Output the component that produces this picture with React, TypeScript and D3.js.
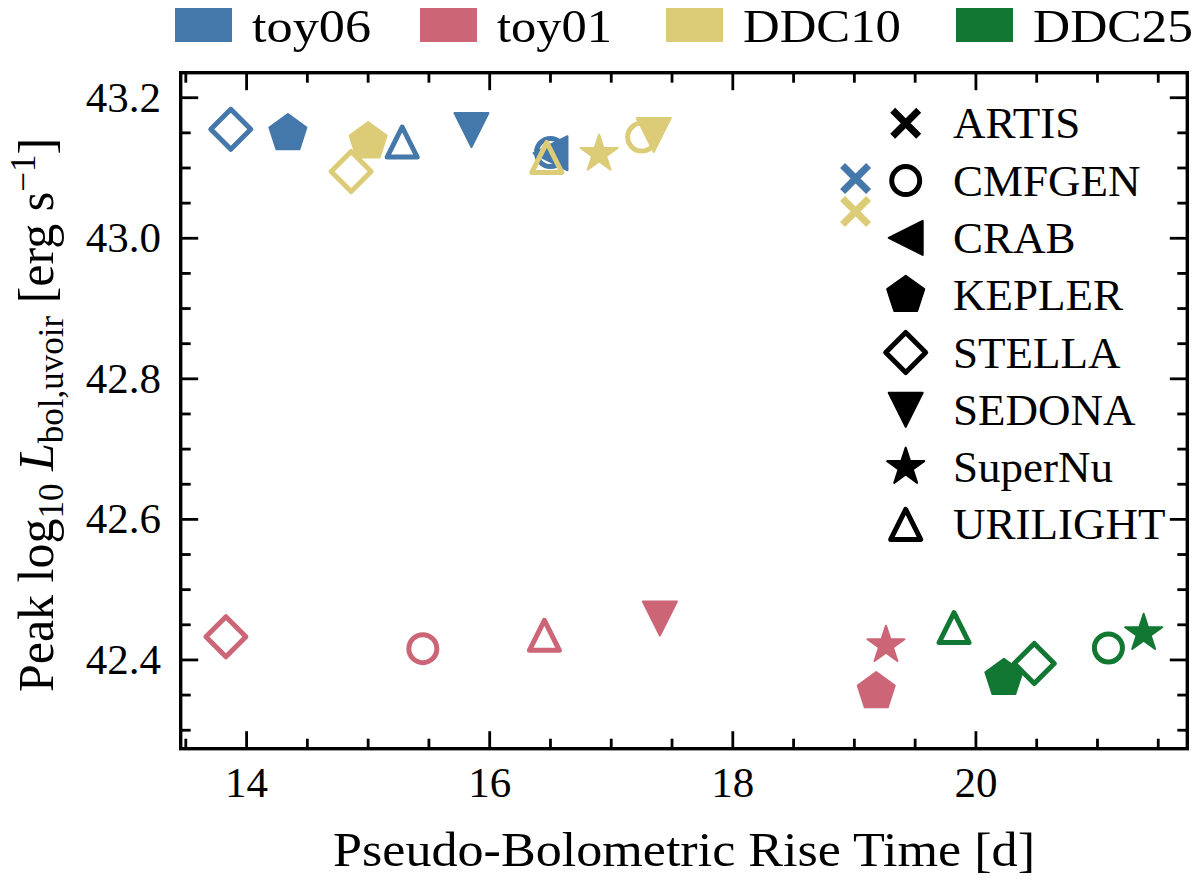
import React from "react";
import * as d3 from "d3";

// ---------- data ----------
const models = ["ARTIS", "CMFGEN", "CRAB", "KEPLER", "STELLA", "SEDONA", "SuperNu", "URILIGHT"];
const modelShapes = ["x", "circle", "triLeft", "pentagon", "diamond", "triDown", "star", "triUp"];
const modelFilled = [false, false, true, true, false, true, true, false];

const datasets = ["toy06", "toy01", "DDC10", "DDC25"];
const datasetColors = ["#4477AA", "#CC6677", "#DDCC77", "#117733"];

const toy06Rise = [19.01, 16.5, 16.5, 14.34, 13.87, 15.85, null, 15.28];
const toy06Lum = [43.085, 43.122, 43.121, 43.149, 43.155, 43.154, null, 43.137];
const toy01Rise = [null, 15.45, null, 19.18, 13.83, 17.4, 19.26, 16.45];
const toy01Lum = [null, 42.416, null, 42.355, 42.433, 42.459, 42.421, 42.435];
const ddc10Rise = [19.01, 17.25, null, 15.0, 14.86, 17.35, 16.9, 16.47];
const ddc10Lum = [43.038, 43.144, null, 43.1375, 43.095, 43.147, 43.12, 43.115];
const ddc25Rise = [null, 21.09, null, 20.23, 20.48, null, 21.38, 19.82];
const ddc25Lum = [null, 42.417, null, 42.374, 42.395, null, 42.438, 42.446];

const riseByDataset = [toy06Rise, toy01Rise, ddc10Rise, ddc25Rise];
const lumByDataset = [toy06Lum, toy01Lum, ddc10Lum, ddc25Lum];

const xMajorTicks = [14, 16, 18, 20];
const yMajorTicks = [42.4, 42.6, 42.8, 43.0, 43.2];

// ---------- layout ----------
const W = 1200;
const H = 882;
const left = 180.7;
const right = 1187.3;
const top = 72.7;
const bottom = 748.7;
const FONT = "'Liberation Serif', 'DejaVu Serif', serif";

const legendPatchX = [175, 420, 666, 956];
const legendTextWidth = [119, 115, 158, 160];

const x = d3.scaleLinear().domain([13.458, 21.739]).range([left, right]);
const y = d3.scaleLinear().domain([42.2737, 43.2356]).range([bottom, top]);

const xMinor = d3.range(13.5, 21.75, 0.5).filter((v) => Math.abs(v / 2 - Math.round(v / 2)) > 1e-6);
const yMinor = d3.range(42.3, 43.24, 0.05).filter((v) => yMajorTicks.every((m) => Math.abs(m - v) > 1e-6));

function shapePath(shape: string): string {
  if (shape === "x") {
    const h = 13;
    return `M${-h},${-h}L${h},${h}M${-h},${h}L${h},${-h}`;
  }
  if (shape === "diamond") {
    const h = 20;
    return `M0,${-h}L${h},0L0,${h}L${-h},0Z`;
  }
  if (shape === "triUp") {
    const h = 15;
    return `M0,${-h}L${h},${h}L${-h},${h}Z`;
  }
  if (shape === "triDown") {
    const h = 17;
    return `M0,${h}L${h},${-h}L${-h},${-h}Z`;
  }
  if (shape === "triLeft") {
    const h = 17;
    return `M${-h},0L${h},${-h}L${h},${h}Z`;
  }
  if (shape === "pentagon") {
    const R = 19.5;
    const pts = d3.range(5).map((k) => {
      const a = (-90 + k * 72) * (Math.PI / 180);
      return [R * Math.cos(a), R * Math.sin(a)];
    });
    return "M" + pts.map((p) => p.join(",")).join("L") + "Z";
  }
  if (shape === "star") {
    const R = 19.5;
    const r = R * 0.381966;
    const pts = d3.range(10).map((k) => {
      const a = (-90 + k * 36) * (Math.PI / 180);
      const rr = k % 2 === 0 ? R : r;
      return [rr * Math.cos(a), rr * Math.sin(a)];
    });
    return "M" + pts.map((p) => p.join(",")).join("L") + "Z";
  }
  return "";
}

function Marker({ shape, filled, color, cx, cy }: { shape: string; filled: boolean; color: string; cx: number; cy: number }) {
  if (shape === "circle") {
    return <circle cx={cx} cy={cy} r={14} fill="none" stroke={color} strokeWidth={5} />;
  }
  if (shape === "x") {
    return (
      <path d={shapePath(shape)} transform={`translate(${cx},${cy})`} fill="none" stroke={color} strokeWidth={7} />
    );
  }
  return (
    <path
      d={shapePath(shape)}
      transform={`translate(${cx},${cy})`}
      fill={filled ? color : "none"}
      stroke={color}
      strokeWidth={filled ? 2 : 5}
      strokeLinejoin="round"
    />
  );
}

export default function App() {
  const points: JSX.Element[] = [];
  models.forEach((m, mi) => {
    datasets.forEach((ds, di) => {
      const rx = riseByDataset[di][mi];
      const ly = lumByDataset[di][mi];
      if (rx == null || ly == null) return;
      points.push(
        <Marker
          key={`${m}-${ds}`}
          shape={modelShapes[mi]}
          filled={modelFilled[mi]}
          color={datasetColors[di]}
          cx={x(rx)}
          cy={y(ly)}
        />
      );
    });
  });

  const legendRowY = (i: number) => 123.3 + i * 57.3;

  return (
    <svg width={W} height={H} style={{ position: "absolute", left: 0, top: 0, background: "#fff" }} fontFamily={FONT}>
      <rect x={0} y={0} width={W} height={H} fill="#fff" />
      {/* top legend */}
      {datasets.map((ds, i) => (
        <g key={ds}>
          <rect x={legendPatchX[i]} y={8} width={57} height={34} fill={datasetColors[i]} />
          <text
            x={legendPatchX[i] + 77}
            y={42}
            fontSize={46}
            fill="#000"
            textLength={legendTextWidth[i]}
            lengthAdjust="spacingAndGlyphs"
          >
            {ds}
          </text>
        </g>
      ))}

      {/* markers */}
      <g>{points}</g>

      {/* model legend */}
      {models.map((m, i) => (
        <g key={m}>
          <Marker shape={modelShapes[i]} filled={modelFilled[i]} color="#000" cx={905.7} cy={legendRowY(i)} />
          <text x={953} y={legendRowY(i) + 15} fontSize={45} fill="#000">
            {m}
          </text>
        </g>
      ))}

      {/* ticks */}
      <g stroke="#000" strokeWidth={2.8}>
        {xMajorTicks.map((t) => (
          <g key={`xm${t}`}>
            <line x1={x(t)} x2={x(t)} y1={bottom} y2={bottom - 17.5} />
            <line x1={x(t)} x2={x(t)} y1={top} y2={top + 17.5} />
          </g>
        ))}
        {xMinor.map((t) => (
          <g key={`xn${t}`}>
            <line x1={x(t)} x2={x(t)} y1={bottom} y2={bottom - 10} />
            <line x1={x(t)} x2={x(t)} y1={top} y2={top + 10} />
          </g>
        ))}
        {yMajorTicks.map((t) => (
          <g key={`ym${t}`}>
            <line x1={left} x2={left + 17.5} y1={y(t)} y2={y(t)} />
            <line x1={right} x2={right - 17.5} y1={y(t)} y2={y(t)} />
          </g>
        ))}
        {yMinor.map((t) => (
          <g key={`yn${t}`}>
            <line x1={left} x2={left + 10} y1={y(t)} y2={y(t)} />
            <line x1={right} x2={right - 10} y1={y(t)} y2={y(t)} />
          </g>
        ))}
      </g>

      {/* frame */}
      <rect x={left} y={top} width={right - left} height={bottom - top} fill="none" stroke="#000" strokeWidth={3.4} />

      {/* tick labels */}
      {xMajorTicks.map((t) => (
        <text key={`xl${t}`} x={x(t)} y={797} fontSize={43} textAnchor="middle" fill="#000">
          {String(t)}
        </text>
      ))}
      {yMajorTicks.map((t) => (
        <text key={`yl${t}`} x={161} y={y(t) + 14} fontSize={43} textAnchor="end" fill="#000">
          {t.toFixed(1)}
        </text>
      ))}

      {/* axis labels */}
      <text
        x={(left + right) / 2}
        y={866}
        fontSize={49}
        textAnchor="middle"
        fill="#000"
        textLength={702}
        lengthAdjust="spacingAndGlyphs"
      >
        Pseudo-Bolometric Rise Time [d]
      </text>
      <text transform={`translate(53,415) rotate(-90)`} fontSize={50} textAnchor="middle" fill="#000">
        <tspan>Peak log</tspan>
        <tspan fontSize={35} dy={10}>10</tspan>
        <tspan dy={-10}> </tspan>
        <tspan fontStyle="italic">L</tspan>
        <tspan fontSize={35} dy={10}>bol,uvoir</tspan>
        <tspan dy={-10}> [erg s</tspan>
        <tspan fontSize={35} dy={-18}>−1</tspan>
        <tspan dy={18}>]</tspan>
      </text>
    </svg>
  );
}
